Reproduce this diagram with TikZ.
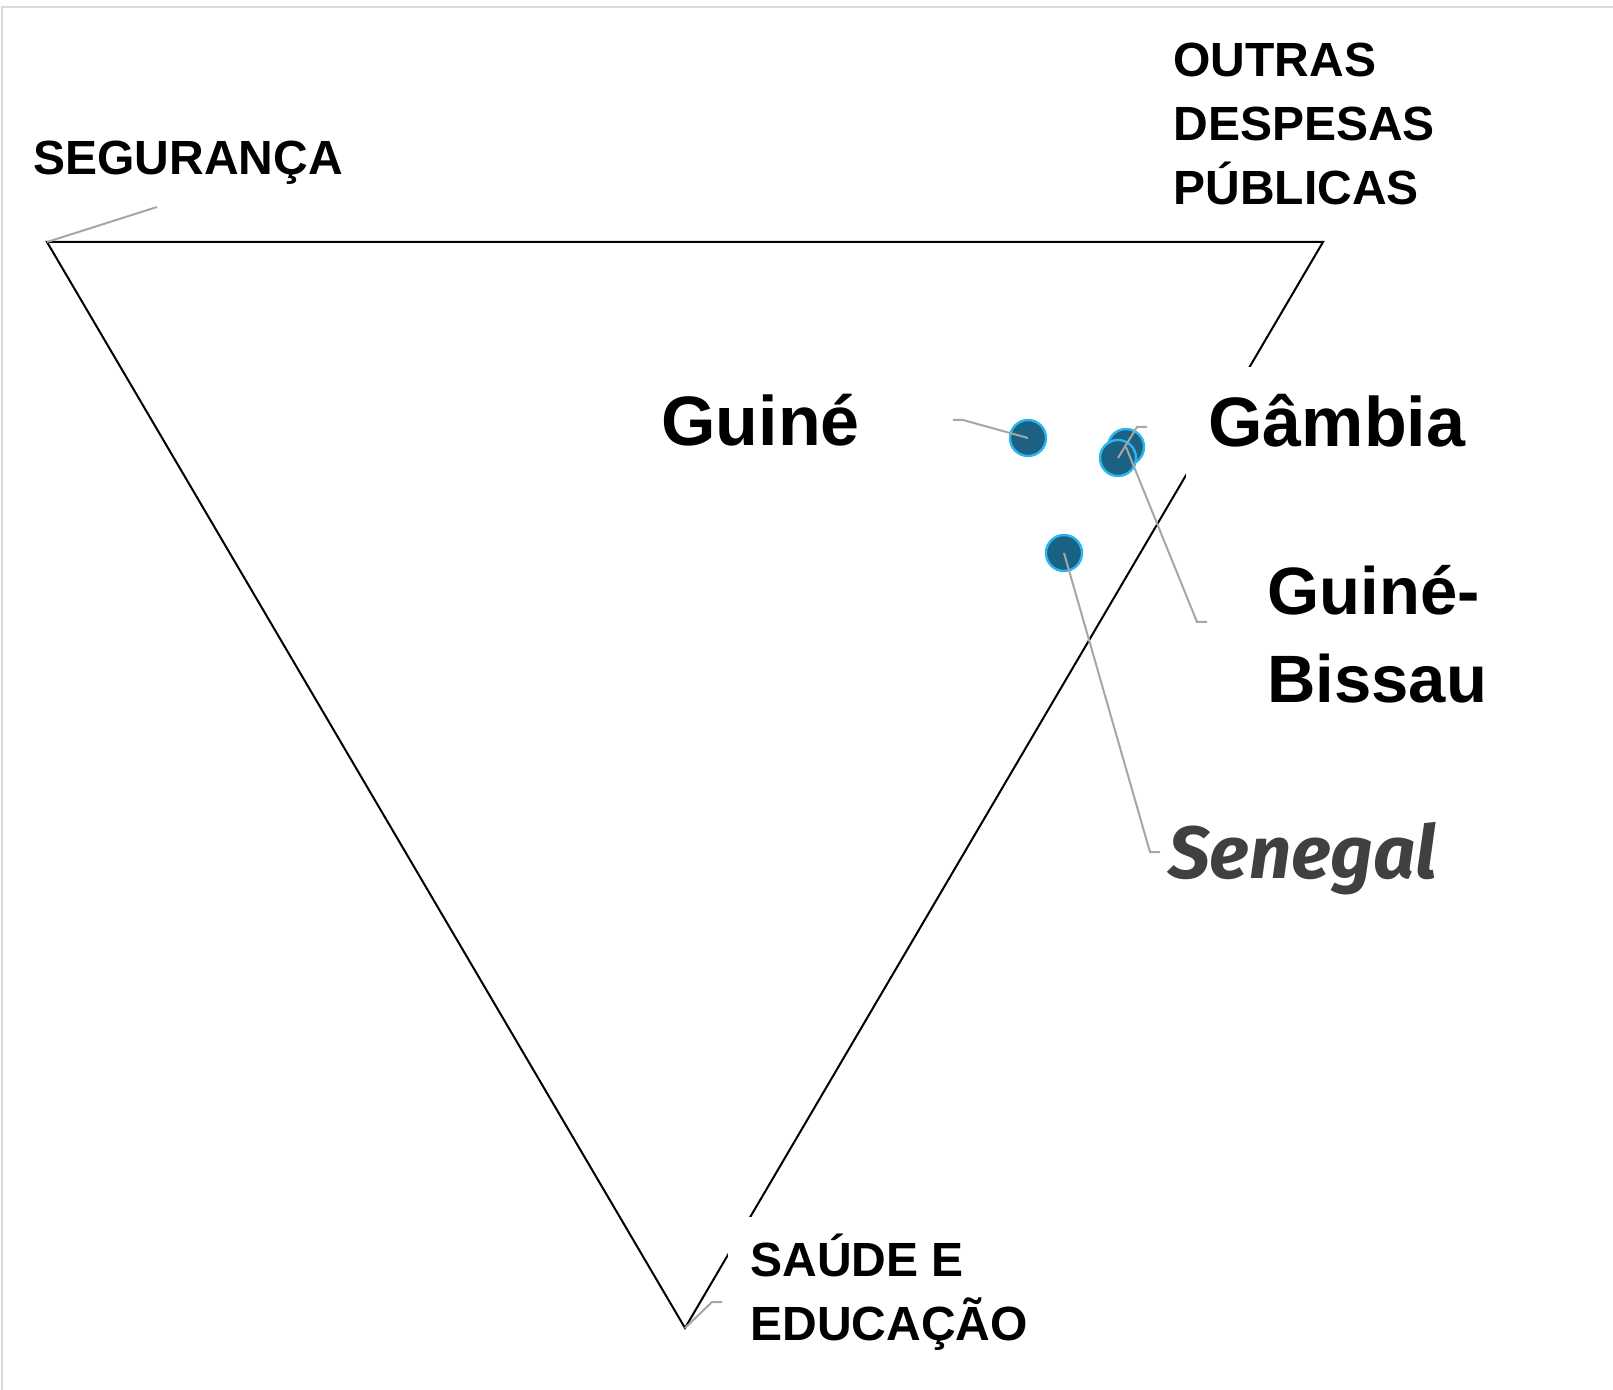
\documentclass[tikz,border=0pt]{standalone}
\usepackage{fontspec}
\setmainfont{Liberation Sans}
\newfontfamily\senfont{Fira Sans}
\definecolor{dotfill}{HTML}{1A6184}
\definecolor{dotedge}{HTML}{2BB5EA}
\definecolor{leadgray}{HTML}{A6A6A6}
\definecolor{framegray}{HTML}{DADADA}
\definecolor{sengray}{HTML}{404040}

\begin{document}
\begin{tikzpicture}[x=0.5pt,y=-0.5pt,
	axis/.style = {font=\fontsize{24}{32}\selectfont\bfseries, align=left, inner sep=0pt},
	country/.style = {font=\fontsize{35}{45}\selectfont\bfseries, inner sep=0pt},
	dot/.style = {draw=dotedge, fill=dotfill, circle, minimum size=18pt, inner sep=0pt, line width=1.2pt},
	lead/.style = {draw=leadgray, line width=1pt}]
	\useasboundingbox (0,0) rectangle (1613,1390);
	\draw[framegray, line width=1.2pt] (2,1390) -- (2,7) -- (1613,7);

	\coordinate (sgr) at (47,242);
	\coordinate (odp) at (1323,242);
	\coordinate (sae) at (685,1328);
	\draw[line width=1pt] (sgr) -- (odp) -- (sae) -- cycle;

	\node[country, fill=white, anchor=base west, inner xsep=11pt, text height=40pt, text depth=15pt] (gmbtxt) at (1186,447) {Gâmbia};
	\node[axis, fill=white, anchor=base west, inner xsep=11pt, inner ysep=8pt] (saetxt) at (728,1340) {SAÚDE E\\EDUCAÇÃO};
	\node[axis, anchor=base west] (sgrtxt) at (33,175) {SEGURANÇA};
	\node[axis, anchor=base west] (odptxt) at (1173,205) {OUTRAS\\DESPESAS\\PÚBLICAS};

	\node[country, anchor=base west] (guitxt) at (661,446) {Guiné};
	\node[country, anchor=base west, font=\fontsize{33.5}{44}\selectfont\bfseries, align=left] (gbstxt) at (1267,703) {Guiné-\\Bissau};
	\node[anchor=base west, inner sep=0pt, text=sengray, font=\senfont\fontsize{37}{44}\selectfont\bfseries\itshape] (sentxt) at (1168,878) {Senegal};

	\node[dot] (gui) at (1028,438) {};
	\node[dot] (gbs) at (1126,447) {};
	\node[dot] (gmb) at (1118,458) {};
	\node[dot] (sen) at (1064,553) {};

	\draw[lead] (sgr) -- (157,207);
	\draw[lead] (sae) -- (712,1302) -- (722,1302);
	\draw[lead] (gui.center) -- (963,420) -- (953,420);
	\draw[lead] (gmb.center) -- (1137,427) -- (1147,427);
	\draw[lead] (gbs.center) -- (1197,622) -- (1207,622);
	\draw[lead] (sen.center) -- (1150,852) -- (1160,852);
\end{tikzpicture}
\end{document}
